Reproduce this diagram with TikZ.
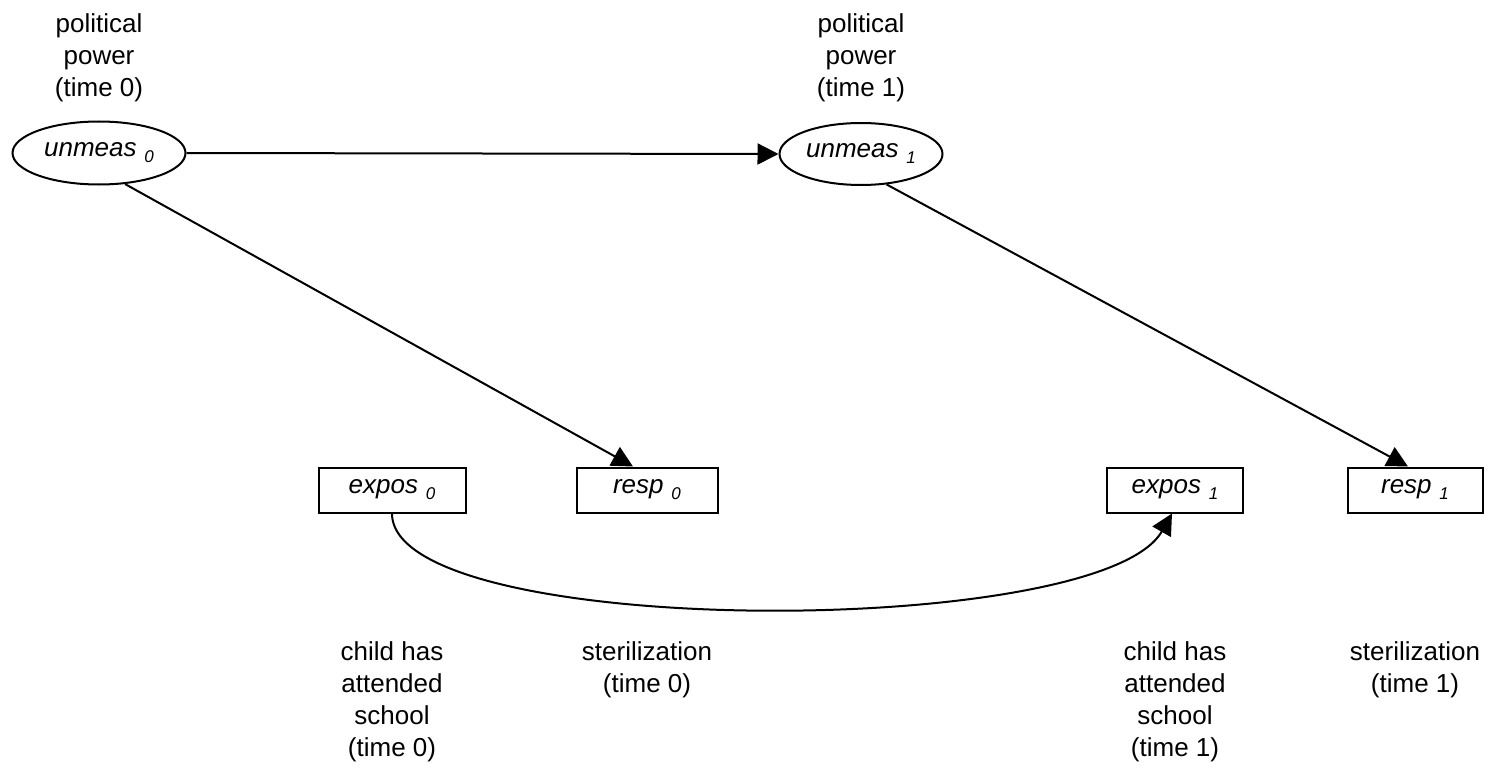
\documentclass[tikz,border=0pt]{standalone}
\usepackage{fontspec}
\setmainfont{Liberation Sans}
\usetikzlibrary{shapes.geometric,arrows.meta}
\newcommand{\vname}[2]{\textit{#1}\hspace{0.3em}\raisebox{-6pt}{\fontsize{17}{17}\selectfont\textit{#2}}}
\begin{document}
\begin{tikzpicture}[x=1pt,y=-1pt,
  every node/.style={font=\fontsize{26}{32}\selectfont},
  latent/.style={draw,line width=2pt,ellipse,inner sep=0pt},
  obs/.style={draw,line width=2pt,rectangle,minimum height=45pt,inner sep=0pt},
  lbl/.style={align=center,anchor=north,inner sep=0pt},
  conn/.style={line width=2pt,-{Triangle[length=21pt,width=21pt]}}]
\useasboundingbox (0,0) rectangle (1491,773);
\node[latent,minimum width=173pt,minimum height=63pt] (u0) at (99,153) {\vname{unmeas}{0}};
\node[latent,minimum width=163pt,minimum height=62pt] (u1) at (861,154) {\vname{unmeas}{1}};
\node[obs,minimum width=147pt] (e0) at (392,490) {\vname{expos}{0}};
\node[obs,minimum width=141pt] (r0) at (647,490) {\vname{resp}{0}};
\node[obs,minimum width=136pt] (e1) at (1175,490) {\vname{expos}{1}};
\node[obs,minimum width=135pt] (r1) at (1415,490) {\vname{resp}{1}};
\node[lbl] (lu0) at (99,13) {political\\power\\(time 0)};
\node[lbl] (lu1) at (861,13) {political\\power\\(time 1)};
\node[lbl] (le0) at (392,641) {child has\\attended\\school\\(time 0)};
\node[lbl] (lr0) at (647,641) {sterilization\\(time 0)};
\node[lbl] (le1) at (1175,641) {child has\\attended\\school\\(time 1)};
\node[lbl] (lr1) at (1415,641) {sterilization\\(time 1)};
\draw[conn] (u0.east) -- (u1.west);
\draw[conn] (u0.-50) -- (r0.north -| 633,0);
\draw[conn] (u1.-50) -- (r1.north -| 1408,0);
\draw[conn] (e0.south) .. controls (392,640) and (1100,640) .. (e1.south -| 1172,0);
\end{tikzpicture}
\end{document}
